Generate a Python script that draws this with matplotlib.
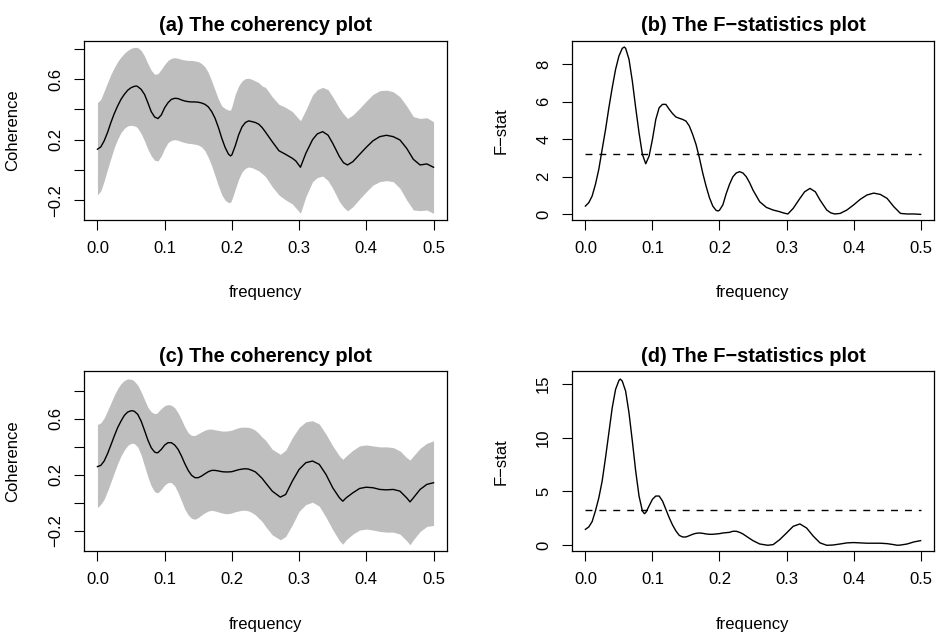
import numpy as np
import matplotlib
matplotlib.use("Agg")
import matplotlib.pyplot as plt

plt.rcParams['font.family'] = ['Liberation Sans', 'DejaVu Sans']

# top row: (a) coherency with band, (b) F statistic
freq_top = [0.000, 0.005, 0.010, 0.015, 0.020, 0.025, 0.030, 0.035, 0.040, 0.045, 0.050, 0.055, 0.058,
            0.060, 0.065, 0.070, 0.075, 0.080, 0.085, 0.090, 0.095, 0.100, 0.105, 0.110, 0.115, 0.120,
            0.125, 0.130, 0.135, 0.140, 0.145, 0.150, 0.155, 0.160, 0.165, 0.170, 0.175, 0.180, 0.185,
            0.190, 0.195, 0.198, 0.200, 0.205, 0.210, 0.215, 0.220, 0.225, 0.230, 0.235, 0.240, 0.245,
            0.25, 0.26, 0.27, 0.28, 0.29, 0.295, 0.302, 0.31, 0.32, 0.327, 0.335, 0.343, 0.35, 0.36,
            0.366, 0.372, 0.38, 0.39, 0.40, 0.41, 0.42, 0.43, 0.44, 0.45, 0.46, 0.47, 0.48, 0.49, 0.50]
coh_a = [0.137, 0.152, 0.192, 0.247, 0.313, 0.372, 0.422, 0.466, 0.499, 0.526, 0.543, 0.552, 0.554,
         0.55, 0.532, 0.499, 0.444, 0.385, 0.35, 0.339, 0.363, 0.411, 0.444, 0.466, 0.473, 0.471,
         0.462, 0.455, 0.451, 0.449, 0.449, 0.447, 0.442, 0.433, 0.416, 0.385, 0.341, 0.28, 0.209,
         0.148, 0.104, 0.093, 0.1, 0.159, 0.231, 0.284, 0.313, 0.324, 0.319, 0.313, 0.302, 0.28,
         0.25, 0.187, 0.127, 0.103, 0.077, 0.06, 0.018, 0.11, 0.20, 0.238, 0.253, 0.23, 0.176, 0.088,
         0.048, 0.033, 0.055, 0.103, 0.15, 0.193, 0.22, 0.229, 0.22, 0.198, 0.143, 0.07, 0.033, 0.04, 0.018]
upper_a = [0.444, 0.466, 0.521, 0.576, 0.631, 0.675, 0.715, 0.745, 0.77, 0.789, 0.803, 0.809, 0.809,
           0.807, 0.789, 0.752, 0.702, 0.658, 0.631, 0.636, 0.664, 0.697, 0.723, 0.737, 0.741, 0.737,
           0.73, 0.726, 0.723, 0.723, 0.719, 0.715, 0.702, 0.68, 0.642, 0.587, 0.526, 0.466, 0.422,
           0.405, 0.395, 0.395, 0.42, 0.499, 0.554, 0.587, 0.603, 0.605, 0.598, 0.587, 0.576, 0.554,
           0.545, 0.483, 0.433, 0.413, 0.385, 0.36, 0.325, 0.396, 0.495, 0.53, 0.545, 0.53, 0.483, 0.407,
           0.37, 0.34, 0.363, 0.407, 0.455, 0.499, 0.523, 0.527, 0.516, 0.483, 0.422, 0.352, 0.34, 0.345, 0.318]
lower_a = [-0.164, -0.138, -0.072, 0.005, 0.077, 0.148, 0.203, 0.247, 0.275, 0.291, 0.295, 0.291, 0.285,
           0.275, 0.24, 0.192, 0.137, 0.093, 0.064, 0.06, 0.093, 0.143, 0.181, 0.196, 0.2, 0.196,
           0.187, 0.181, 0.176, 0.174, 0.17, 0.165, 0.152, 0.126, 0.082, 0.027, -0.039, -0.105, -0.164,
           -0.2, -0.215, -0.213, -0.193, -0.127, -0.061, -0.013, 0.011, 0.02, 0.015, 0.005, -0.006, -0.024,
           -0.044, -0.11, -0.165, -0.198, -0.224, -0.25, -0.285, -0.176, -0.077, -0.05, -0.04, -0.07, -0.121, -0.209,
           -0.245, -0.27, -0.242, -0.191, -0.143, -0.099, -0.077, -0.07, -0.077, -0.121, -0.198, -0.264, -0.268, -0.264, -0.286]
fstat_b = [0.44, 0.62, 0.97, 1.6, 2.4, 3.46, 4.5, 5.67, 6.74, 7.71, 8.42, 8.83, 8.9,
           8.83, 8.25, 7.09, 5.67, 4.34, 3.19, 2.69, 3.1, 3.99, 5.05, 5.67, 5.85, 5.85,
           5.59, 5.36, 5.18, 5.11, 5.05, 4.96, 4.7, 4.25, 3.72, 3.01, 2.2, 1.5, 0.89,
           0.44, 0.21, 0.18, 0.22, 0.5, 1.1, 1.6, 2.0, 2.2, 2.27, 2.2, 2.0, 1.68,
           1.29, 0.67, 0.37, 0.23, 0.14, 0.08, 0.02, 0.32, 0.85, 1.2, 1.38, 1.2, 0.76, 0.23,
           0.08, 0.02, 0.05, 0.23, 0.5, 0.8, 1.03, 1.13, 1.06, 0.85, 0.41, 0.05, 0.02, 0.02, 0.0]

# bottom row: (c) coherency with band, (d) F statistic
freq_bot = [0.000, 0.005, 0.010, 0.015, 0.020, 0.025, 0.030, 0.035, 0.040, 0.045, 0.050, 0.052, 0.055,
            0.060, 0.065, 0.070, 0.075, 0.080, 0.085, 0.088, 0.090, 0.095, 0.100, 0.105, 0.110, 0.115,
            0.120, 0.125, 0.130, 0.135, 0.140, 0.145, 0.150, 0.155, 0.160, 0.165, 0.170, 0.175, 0.180,
            0.185, 0.190, 0.195, 0.200, 0.205, 0.210, 0.215, 0.220, 0.225, 0.230, 0.235, 0.240, 0.245,
            0.25, 0.26, 0.272, 0.28, 0.29, 0.30, 0.31, 0.32, 0.33, 0.34, 0.35, 0.36, 0.365, 0.37,
            0.38, 0.39, 0.40, 0.41, 0.42, 0.43, 0.44, 0.45, 0.46, 0.465, 0.47, 0.48, 0.49, 0.50]
coh_c = [0.258, 0.267, 0.298, 0.35, 0.412, 0.476, 0.536, 0.583, 0.624, 0.648, 0.657, 0.657, 0.653,
         0.631, 0.583, 0.517, 0.448, 0.393, 0.362, 0.357, 0.358, 0.381, 0.412, 0.429, 0.429, 0.412,
         0.381, 0.334, 0.279, 0.231, 0.196, 0.179, 0.179, 0.191, 0.207, 0.222, 0.231, 0.231, 0.227,
         0.222, 0.22, 0.22, 0.222, 0.229, 0.236, 0.24, 0.243, 0.24, 0.231, 0.22, 0.198, 0.174,
         0.143, 0.083, 0.04, 0.059, 0.155, 0.238, 0.286, 0.298, 0.274, 0.202, 0.107, 0.035, 0.011, 0.035,
         0.071, 0.102, 0.111, 0.107, 0.095, 0.092, 0.095, 0.083, 0.035, 0.006, 0.035, 0.095, 0.131, 0.143]
upper_c = [0.558, 0.571, 0.606, 0.658, 0.713, 0.768, 0.815, 0.851, 0.873, 0.885, 0.882, 0.879, 0.868,
           0.839, 0.792, 0.737, 0.682, 0.649, 0.637, 0.638, 0.649, 0.673, 0.694, 0.701, 0.697, 0.678,
           0.642, 0.594, 0.541, 0.5, 0.481, 0.481, 0.493, 0.507, 0.519, 0.526, 0.526, 0.521, 0.517,
           0.512, 0.512, 0.514, 0.519, 0.528, 0.536, 0.54, 0.54, 0.538, 0.531, 0.517, 0.495, 0.469,
           0.447, 0.382, 0.346, 0.375, 0.466, 0.538, 0.578, 0.586, 0.562, 0.49, 0.406, 0.334, 0.31, 0.334,
           0.375, 0.406, 0.413, 0.406, 0.399, 0.399, 0.394, 0.37, 0.322, 0.305, 0.334, 0.389, 0.425, 0.442]
lower_c = [-0.035, -0.011, 0.025, 0.084, 0.148, 0.215, 0.279, 0.334, 0.377, 0.41, 0.424, 0.424, 0.422,
           0.398, 0.341, 0.263, 0.184, 0.12, 0.079, 0.073, 0.072, 0.096, 0.127, 0.144, 0.144, 0.12,
           0.072, 0.013, -0.047, -0.087, -0.111, -0.118, -0.106, -0.087, -0.071, -0.059, -0.054, -0.059, -0.066,
           -0.073, -0.078, -0.078, -0.073, -0.064, -0.059, -0.054, -0.054, -0.059, -0.071, -0.087, -0.111, -0.135,
           -0.169, -0.229, -0.265, -0.241, -0.157, -0.061, -0.013, 0.004, -0.025, -0.104, -0.193, -0.272, -0.296, -0.265,
           -0.224, -0.195, -0.188, -0.195, -0.205, -0.21, -0.21, -0.224, -0.272, -0.3, -0.265, -0.205, -0.169, -0.162]
fstat_d = [1.48, 1.7, 2.19, 3.2, 4.4, 5.96, 8.13, 10.45, 12.77, 14.47, 15.3, 15.43, 15.24,
           14.31, 12.3, 9.68, 6.89, 4.57, 3.18, 2.93, 3.03, 3.65, 4.27, 4.57, 4.57, 4.11,
           3.34, 2.56, 1.88, 1.33, 0.92, 0.77, 0.77, 0.89, 1.02, 1.11, 1.14, 1.11, 1.05,
           1.02, 1.02, 1.05, 1.08, 1.14, 1.17, 1.2, 1.3, 1.3, 1.2, 1.05, 0.84, 0.63,
           0.43, 0.12, 0.0, 0.06, 0.53, 1.14, 1.76, 1.98, 1.6, 0.84, 0.22, 0.0, 0.01, 0.03,
           0.12, 0.22, 0.25, 0.22, 0.19, 0.19, 0.19, 0.15, 0.06, 0.0, 0.02, 0.12, 0.31, 0.43]

f_crit = 3.23
xticks = [0.0, 0.1, 0.2, 0.3, 0.4, 0.5]

fig = plt.figure(figsize=(9.37, 6.36), dpi=100)
W, H = 937.0, 636.0


def r_axes(left, top, right, bottom, ylim, yticks, ylabels, title, ylab):
    ax = fig.add_axes([left / W, 1 - bottom / H, (right - left) / W, (bottom - top) / H])
    ax.set_xlim(-0.02, 0.52)
    ax.set_ylim(*ylim)
    ax.set_xticks(xticks)
    ax.set_xticklabels(["%.1f" % t for t in xticks])
    ax.set_yticks(yticks)
    ax.set_yticklabels(ylabels, rotation=90, va='center')
    ax.tick_params(direction='out', length=7, width=0.8, labelsize=12, pad=8)
    for s in ax.spines.values():
        s.set_linewidth(0.9)
    ax.set_title(title, fontsize=14.4, fontweight='bold', pad=7)
    ax.set_xlabel("frequency", fontsize=12)
    ax.xaxis.set_label_coords(0.5, -73.0 / (bottom - top))
    ax.xaxis.label.set_va('center')
    ax.set_ylabel(ylab, fontsize=12)
    ax.yaxis.set_label_coords(-71.0 / (right - left), 0.5)
    ax.yaxis.label.set_va('center')
    return ax


coh_ticks = [-0.2, 0.0, 0.2, 0.4, 0.6, 0.8]
coh_labels = ["\u22120.2", "", "0.2", "", "0.6", ""]

ax = r_axes(84, 41, 447, 220, (-0.330, 0.851), coh_ticks, coh_labels,
            "(a) The coherency plot", "Coherence")
ax.fill_between(freq_top, lower_a, upper_a, color='#BEBEBE', lw=0)
ax.plot(freq_top, coh_a, color='black', lw=1)

ax = r_axes(572, 41, 934, 220, (-0.30, 9.22), [0, 2, 4, 6, 8], ["0", "2", "4", "6", "8"],
            "(b) The F\u2212statistics plot", "F\u2212stat")
ax.plot(freq_top, fstat_b, color='black', lw=1)
ax.plot([0, 0.5], [f_crit, f_crit], color='black', lw=1, dashes=(5, 5))

ax = r_axes(84, 371.3, 447, 551.3, (-0.347, 0.939), coh_ticks, coh_labels,
            "(c) The coherency plot", "Coherence")
ax.fill_between(freq_bot, lower_c, upper_c, color='#BEBEBE', lw=0)
ax.plot(freq_bot, coh_c, color='black', lw=1)

ax = r_axes(572, 371.3, 934, 551.3, (-0.56, 16.15), [0, 5, 10, 15], ["0", "5", "10", "15"],
            "(d) The F\u2212statistics plot", "F\u2212stat")
ax.plot(freq_bot, fstat_d, color='black', lw=1)
ax.plot([0, 0.5], [f_crit, f_crit], color='black', lw=1, dashes=(5, 5))

fig.savefig("out.png", dpi=100)
